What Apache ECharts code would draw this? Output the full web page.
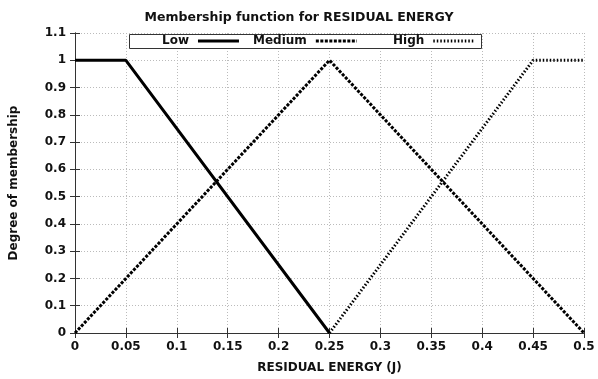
<!DOCTYPE html>
<html>
<head>
<meta charset="utf-8">
<script src="https://cdn.jsdelivr.net/npm/echarts@6/dist/echarts.min.js"></script>
<style>html,body{margin:0;padding:0;background:#fff}#c{width:598px;height:379px}</style>
</head>
<body>
<div id="c"></div>
<script>
const lowX = [0, 0.05, 0.25];
const lowY = [1, 1, 0];
const mediumX = [0, 0.25, 0.5];
const mediumY = [0, 1, 0];
const highX = [0.25, 0.45, 0.5];
const highY = [0, 1, 1];
const xTicks = [0, 0.05, 0.1, 0.15, 0.2, 0.25, 0.3, 0.35, 0.4, 0.45, 0.5];
const yTicks = [0, 0.1, 0.2, 0.3, 0.4, 0.5, 0.6, 0.7, 0.8, 0.9, 1, 1.1];

const font = 'DejaVu Sans';
const pair = (xs, ys) => xs.map((x, i) => [x, ys[i]]);
const chart = echarts.init(document.getElementById('c'));
const axisCommon = {
  type: 'value',
  axisLine: { show: true, lineStyle: { color: '#333', width: 1 } },
  axisTick: { show: true, inside: true, length: 5, lineStyle: { color: '#333' } }
};
const legendCommon = {
  top: 35, padding: 0, align: 'right', itemWidth: 41, itemHeight: 14,
  selectedMode: false, z: 10, itemStyle: { opacity: 0 },
  textStyle: { fontFamily: font, fontWeight: 'bold', fontSize: 12, color: '#111', padding: [0, 4, 0, 0] }
};
chart.setOption({
  animation: false,
  title: {
    text: 'Membership function for RESIDUAL ENERGY', left: 'center', top: 6,
    textStyle: { fontFamily: font, fontWeight: 'bold', fontSize: 12.5, color: '#111' }
  },
  grid: { left: 73, right: 14, top: 33, bottom: 46 },
  graphic: [{
    type: 'rect', z: 5, shape: { x: 129.5, y: 34.5, width: 352, height: 14 },
    style: { fill: '#fff', stroke: '#333', lineWidth: 1 }
  }],
  legend: [
    Object.assign({ left: 162, data: ['Low'], lineStyle: { width: 3 } }, legendCommon),
    Object.assign({ left: 253, data: ['Medium'], lineStyle: { width: 3 } }, legendCommon),
    Object.assign({ left: 393, data: ['High'], lineStyle: { width: 3 } }, legendCommon)
  ],
  xAxis: [
    Object.assign({}, axisCommon, {
      min: xTicks[0], max: xTicks[xTicks.length - 1], interval: 0.05, position: 'bottom',
      name: 'RESIDUAL ENERGY (J)', nameLocation: 'middle', nameGap: 29,
      nameTextStyle: { fontFamily: font, fontWeight: 'bold', fontSize: 12, color: '#111' },
      axisLabel: { margin: 8, fontFamily: font, fontWeight: 'bold', fontSize: 12, color: '#111' },
      splitLine: { show: true, lineStyle: { color: '#bbb', type: [1, 2], width: 1 } }
    }),
    Object.assign({}, axisCommon, {
      min: xTicks[0], max: xTicks[xTicks.length - 1], interval: 0.05, position: 'top',
      axisLabel: { show: false }, splitLine: { show: false }
    })
  ],
  yAxis: [
    Object.assign({}, axisCommon, {
      min: yTicks[0], max: yTicks[yTicks.length - 1], interval: 0.1, position: 'left',
      name: 'Degree of membership', nameLocation: 'middle', nameGap: 55, nameRotate: 90,
      nameTextStyle: { fontFamily: font, fontWeight: 'bold', fontSize: 12, color: '#111' },
      axisLabel: { margin: 9, fontFamily: font, fontWeight: 'bold', fontSize: 12, color: '#111' },
      splitLine: { show: true, lineStyle: { color: '#bbb', type: [1, 2], width: 1 } }
    }),
    Object.assign({}, axisCommon, {
      min: yTicks[0], max: yTicks[yTicks.length - 1], interval: 0.1, position: 'right',
      axisLabel: { show: false }, splitLine: { show: false }
    })
  ],
  series: [
    { name: 'Low', type: 'line', data: pair(lowX, lowY), symbol: 'none', z: 3,
      itemStyle: { color: '#000' },
      lineStyle: { color: '#000', width: 3, type: 'solid' } },
    { name: 'Medium', type: 'line', data: pair(mediumX, mediumY), symbol: 'none', z: 3,
      itemStyle: { color: '#000' },
      lineStyle: { color: '#000', width: 3, type: [3, 1.5], cap: 'butt' } },
    { name: 'High', type: 'line', data: pair(highX, highY), symbol: 'none', z: 3,
      itemStyle: { color: '#000' },
      lineStyle: { color: '#000', width: 3, type: [1.5, 2], cap: 'butt' } }
  ]
});
</script>
</body>
</html>
